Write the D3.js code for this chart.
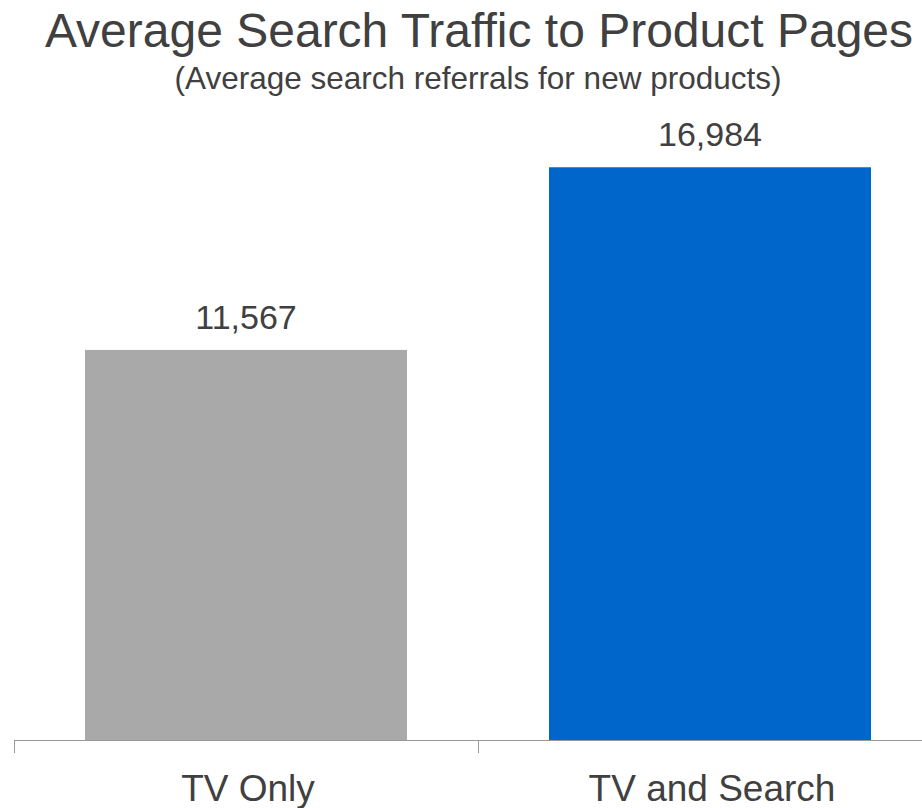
<!DOCTYPE html>
<html>
<head>
<meta charset="utf-8">
<script src="https://cdn.jsdelivr.net/npm/d3@7"></script>
<style>
  html, body { margin: 0; padding: 0; background: #fff; }
  svg { display: block; font-family: "Liberation Sans", Arial, sans-serif; }
</style>
</head>
<body>
<svg id="chart" width="922" height="808"></svg>
<script>
// Average search referrals per product page
const categories = ["TV Only", "TV and Search"];
const values = [11567, 16984];
const barColors = ["#a9a9a9", "#0066cc"];

const svg = d3.select("#chart");
const W = 922, H = 808;
const baseline = 740;

const x = d3.scaleBand()
  .domain(categories)
  .range([14, 942])
  .paddingInner(0.306)
  .paddingOuter(0.153);

const y = d3.scaleLinear()
  .domain([0, 18000])
  .range([baseline, 133]);

// Title block
svg.append("text")
  .attr("x", 479).attr("y", 47)
  .attr("text-anchor", "middle")
  .attr("font-size", 48)
  .attr("fill", "#404040")
  .text("Average Search Traffic to Product Pages");

svg.append("text")
  .attr("x", 478).attr("y", 89)
  .attr("text-anchor", "middle")
  .attr("font-size", 31.5)
  .attr("fill", "#404040")
  .text("(Average search referrals for new products)");

// Bars
const data = categories.map((c, i) => ({ c, v: values[i], color: barColors[i] }));

svg.selectAll("rect.bar")
  .data(data)
  .join("rect")
  .attr("class", "bar")
  .attr("x", d => x(d.c))
  .attr("width", x.bandwidth())
  .attr("y", d => y(d.v))
  .attr("height", d => baseline - y(d.v))
  .attr("fill", d => d.color);

// Value labels
const fmt = d3.format(",");
svg.selectAll("text.val")
  .data(data)
  .join("text")
  .attr("class", "val")
  .attr("x", d => x(d.c) + x.bandwidth() / 2)
  .attr("y", d => y(d.v) - 21)
  .attr("text-anchor", "middle")
  .attr("font-size", 34)
  .attr("fill", "#404040")
  .text(d => fmt(d.v));

// Category axis with ticks at band boundaries
const axisG = svg.append("g").attr("transform", `translate(0,${baseline})`);
axisG.append("line")
  .attr("x1", 14).attr("x2", W)
  .attr("y1", 0.5).attr("y2", 0.5)
  .attr("stroke", "#999").attr("stroke-width", 1);

const boundaries = categories.map(c => x(c) - x.step() * x.paddingInner() / 2);
axisG.selectAll("line.tick")
  .data(boundaries)
  .join("line")
  .attr("class", "tick")
  .attr("x1", d => Math.round(d) + 0.5).attr("x2", d => Math.round(d) + 0.5)
  .attr("y1", 0).attr("y2", 13)
  .attr("stroke", "#999").attr("stroke-width", 1);

axisG.selectAll("text.cat")
  .data(categories)
  .join("text")
  .attr("class", "cat")
  .attr("x", d => x(d) + x.bandwidth() / 2 + 2)
  .attr("y", 61)
  .attr("text-anchor", "middle")
  .attr("font-size", 37)
  .attr("fill", "#404040")
  .text(d => d);
</script>
</body>
</html>
